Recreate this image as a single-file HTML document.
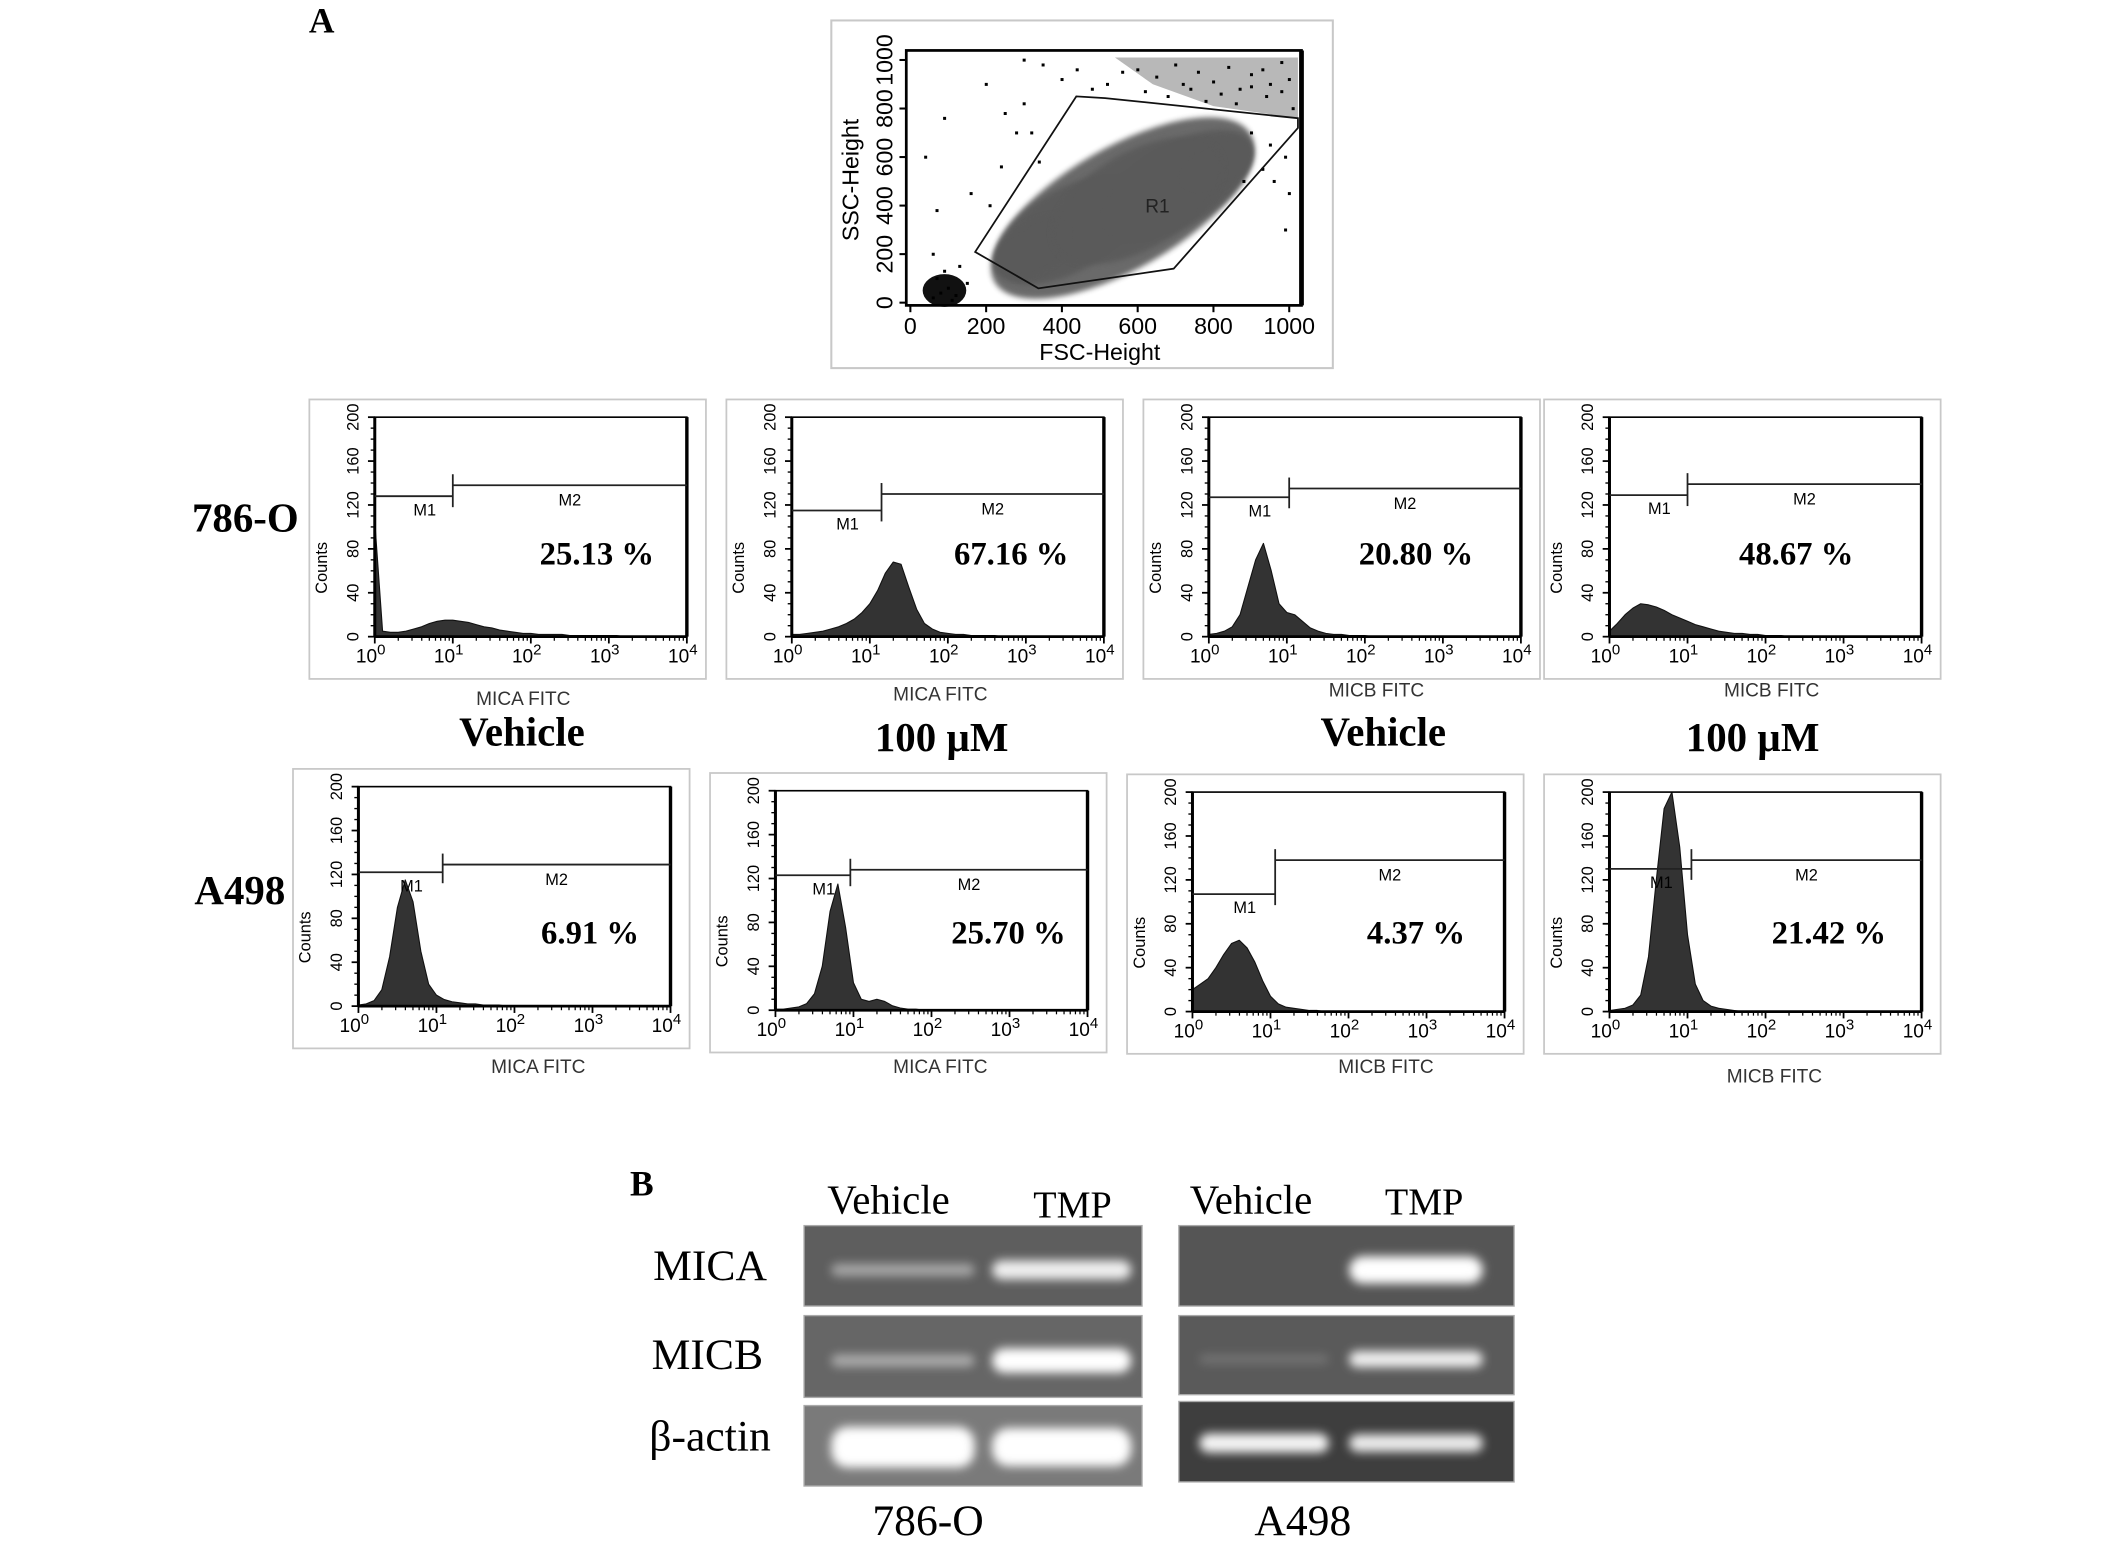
<!DOCTYPE html>
<html><head><meta charset="utf-8"><style>
html,body{margin:0;padding:0;background:#fff}
svg{display:block}
.sans{font-family:"Liberation Sans",sans-serif}
.serif{font-family:"Liberation Serif",serif}
</style></head><body>
<svg id="fig" width="2126" height="1546" viewBox="0 0 1560 1134" preserveAspectRatio="none" xmlns="http://www.w3.org/2000/svg">
<defs>
<filter id="blur" x="-30%" y="-100%" width="160%" height="300%"><feGaussianBlur stdDeviation="3.5"/></filter>
<filter id="blur2" x="-20%" y="-20%" width="140%" height="140%"><feGaussianBlur stdDeviation="2"/></filter>
</defs>
<text x="236" y="24" class="serif" font-weight="bold" font-size="26" text-anchor="middle">A</text>
<text x="471" y="877" class="serif" font-weight="bold" font-size="26" text-anchor="middle">B</text>
<g id="scatter"></g>
<g id="hists"></g>
<text x="180" y="390" class="serif" font-weight="bold" font-size="30" text-anchor="middle">786-O</text>
<text x="176" y="663" class="serif" font-weight="bold" font-size="30" text-anchor="middle">A498</text>
<text x="383" y="547" class="serif" font-weight="bold" font-size="30" text-anchor="middle">Vehicle</text>
<text x="691" y="551" class="serif" font-weight="bold" font-size="30" text-anchor="middle">100 µM</text>
<text x="1015" y="547" class="serif" font-weight="bold" font-size="30" text-anchor="middle">Vehicle</text>
<text x="1286" y="551" class="serif" font-weight="bold" font-size="30" text-anchor="middle">100 µM</text>
<g id="gel"></g>
</svg>
<script>
const NS='http://www.w3.org/2000/svg';
function mk(p,tag,a,txt){const e=document.createElementNS(NS,tag);for(const k in a)e.setAttribute(k,a[k]);if(txt!==undefined)e.textContent=txt;p.appendChild(e);return e;}

/* ---------- scatter data ---------- */
const fscTicks=[0,200,400,600,800,1000];
const sscTicks=[0,200,400,600,800,1000];
const gateFsc=[171,438,514,1023,1023,695,338];
const gateSsc=[209,850,843,760,720,140,59];
const cloudFsc=[560,420,700,330,800,600];
const cloudSsc=[390,300,480,230,560,420];
const cloudRx=[390,220,230,120,110,250];
const cloudRy=[250,170,170,100,100,200];
const dotFsc=[60,80,100,120,150,70,90,110,60,130,40,200,250,300,320,340,160,210,90,70,600,650,700,720,760,800,840,870,900,930,950,980,1000,620,680,740,780,820,860,900,940,980,1010,560,520,480,440,400,350,300,900,950,990,930,960,240,280,990,1000,880];
const dotSsc=[20,40,60,30,80,100,130,10,200,150,600,900,780,820,700,580,450,400,760,380,960,930,980,900,950,910,970,880,940,960,900,990,920,870,850,880,830,860,820,890,850,870,800,950,900,880,960,920,980,1000,700,650,600,550,500,560,700,300,450,500];

const scatter=document.getElementById('scatter');
(function(){
  const g=scatter;
  mk(g,'rect',{x:610,y:15,width:368,height:255,fill:'#fff',stroke:'#c8c8c8','stroke-width':1.5});
  const L=665,R=955,T=37,B=224;
  const x0=668,x1=946,y0=222,y1=44;
  const sx=v=>x0+(x1-x0)*v/1000, sy=v=>y0+(y1-y0)*v/1000;
  const ur=mk(g,'path',{d:`M${sx(540)} ${sy(1010)} L${sx(1023)} ${sy(1010)} L${sx(1023)} ${sy(760)} L${sx(800)} ${sy(810)} L${sx(640)} ${sy(900)} Z`,fill:'#333',opacity:0.35});
  
  
  for(let i=0;i<cloudFsc.length;i++){
    const cx=sx(cloudFsc[i]),cy=sy(cloudSsc[i]);
    const e=mk(g,'ellipse',{cx:cx,cy:cy,rx:(x1-x0)*cloudRx[i]/1000,ry:(y0-y1)*cloudRy[i]/1000,fill:'#5a5a5a',opacity:0.9,transform:`rotate(-30 ${cx} ${cy})`,filter:'url(#blur2)'});
    
    
  }
  const deb=mk(g,'ellipse',{cx:sx(90),cy:sy(50),rx:16,ry:12,fill:'#111'});
  
  
  for(let i=0;i<dotFsc.length;i++){
    const d=mk(g,'rect',{x:sx(dotFsc[i])-1,y:sy(dotSsc[i])-1,width:2.2,height:2.2,fill:'#000'});
    
    
  }
  let pts=gateFsc.map((f,i)=>sx(f)+','+sy(gateSsc[i])).join(' ');
  const gp=mk(g,'polygon',{points:pts,fill:'none',stroke:'#111','stroke-width':1.3});
  
  
  mk(g,'text',{x:sx(620),y:sy(400)+5,'font-size':14,fill:'#222',class:'sans'},'R1');
  mk(g,'rect',{x:L,y:T,width:R-L,height:B-T,fill:'none',stroke:'#000','stroke-width':2});
  mk(g,'line',{x1:R,y1:T,x2:R,y2:B,stroke:'#000','stroke-width':3.5});
  fscTicks.forEach(v=>{mk(g,'line',{x1:sx(v),y1:B,x2:sx(v),y2:B+5,stroke:'#000','stroke-width':1.5});
    const t=mk(g,'text',{x:sx(v),y:B+21,'font-size':17,'text-anchor':'middle',class:'sans'},String(v));});
  sscTicks.forEach(v=>{mk(g,'line',{x1:L-5,y1:sy(v),x2:L,y2:sy(v),stroke:'#000','stroke-width':1.5});
    const t=mk(g,'text',{x:L-10,y:sy(v),'font-size':17,'text-anchor':'middle',transform:`rotate(-90 ${L-10} ${sy(v)})`,class:'sans'},String(v));});
  const xt=mk(g,'text',{x:(x0+x1)/2,y:264,'font-size':17,'text-anchor':'middle',class:'sans'},'FSC-Height');
  
  const yt=mk(g,'text',{x:630,y:132,'font-size':17,'text-anchor':'middle',transform:'rotate(-90 630 132)',class:'sans'},'SSC-Height');
  
})();

/* ---------- histogram data (counts at log10 = 0,0.1,...,4) ---------- */
const histA=[105,5,4,4,5,7,9,12,14,15,15,14,13,11,9,8,6,5,4,3,3,2,2,2,2,1,1,1,1,1,1,1,0,0,0,0,0,0,0,0,0];
const histB=[2,2,3,4,5,7,9,12,16,22,30,42,58,68,66,45,25,12,7,4,3,2,2,1,1,1,1,0,0,0,0,0,0,0,0,0,0,0,0,0,0];
const histC=[2,3,5,9,20,45,70,85,60,30,22,20,14,8,5,3,2,2,1,1,1,0,0,0,0,0,0,0,0,0,0,0,0,0,0,0,0,0,0,0,0];
const histD=[5,12,20,26,30,29,27,24,20,17,14,11,9,7,5,4,3,3,2,2,1,1,1,0,0,0,0,0,0,0,0,0,0,0,0,0,0,0,0,0,0];
const histE=[1,2,5,15,45,90,115,95,50,20,10,6,4,3,2,2,1,1,1,0,0,0,0,0,0,0,0,0,0,0,0,0,0,0,0,0,0,0,0,0,0];
const histF=[1,1,2,3,6,15,40,90,115,75,25,10,8,10,8,4,2,1,1,0,0,0,0,0,0,0,0,0,0,0,0,0,0,0,0,0,0,0,0,0,0];
const histG=[20,25,30,40,52,62,65,58,45,28,14,7,4,3,2,1,1,0,0,0,0,0,0,0,0,0,0,0,0,0,0,0,0,0,0,0,0,0,0,0,0];
const histH=[1,2,3,6,15,50,120,185,200,150,70,25,10,5,3,2,1,0,0,0,0,0,0,0,0,0,0,0,0,0,0,0,0,0,0,0,0,0,0,0,0];
const histSeries=[histA,histB,histC,histD,histE,histF,histG,histH];
const gateSplit=[1.0,1.15,1.03,1.0,1.08,0.96,1.06,1.05];
const gateM1=[128,115,127,129,122,123,107,130];
const gateM2=[138,130,135,139,129,128,138,138];
const percentLabels=['25.13 %','67.16 %','20.80 %','48.67 %','6.91 %','25.70 %','4.37 %','21.42 %'];
const markerLabels=['MICA FITC','MICA FITC','MICB FITC','MICB FITC','MICA FITC','MICA FITC','MICB FITC','MICB FITC'];
const countTicks=[0,40,80,120,160,200];
const decadeTicks=[0,1,2,3,4];
const frames=[[227,293],[533,293],[839,293],[1133,293],[215,564],[521,567],[827,568],[1133,568]];
const pctPos=[[438,414],[742,414],[1039,414],[1318,414],[433,692],[740,692],[1039,692],[1342,692]];
const lblPos=[[384,517],[690,514],[1010,511],[1300,511],[395,787],[690,787],[1017,787],[1302,794]];

const hg=document.getElementById('hists');
histSeries.forEach((data,k)=>{
  const [fx,fy]=frames[k];
  const g=mk(hg,'g',{});
  
  
  mk(g,'rect',{x:fx,y:fy,width:291,height:205,fill:'#fff',stroke:'#c8c8c8','stroke-width':1.3});
  const L=fx+48,R=fx+277,T=fy+13,B=fy+174;
  const sx=l=>L+(R-L)*l/4, sy=c=>B-(B-T)*c/200;
  let d=`M${sx(0)} ${B}`;
  data.forEach((c,i)=>{d+=` L${sx(i*0.1)} ${sy(Math.min(c,200))}`;});
  d+=` L${sx(4)} ${B} Z`;
  const a=mk(g,'path',{d:d,fill:'#333',stroke:'#111','stroke-width':0.8,'stroke-linejoin':'round'});
  
  
  mk(g,'rect',{x:L,y:T,width:R-L,height:B-T,fill:'none',stroke:'#000','stroke-width':1.2});
  mk(g,'line',{x1:L,y1:T,x2:L,y2:B,stroke:'#000','stroke-width':2.2});
  mk(g,'line',{x1:L,y1:B,x2:R,y2:B,stroke:'#000','stroke-width':2});
  mk(g,'line',{x1:R,y1:T,x2:R,y2:B,stroke:'#000','stroke-width':2.5});
  const gx=sx(gateSplit[k]);
  const m1=mk(g,'line',{x1:L,y1:sy(gateM1[k]),x2:gx,y2:sy(gateM1[k]),stroke:'#222','stroke-width':1.3});
  
  const m2=mk(g,'line',{x1:gx,y1:sy(gateM2[k]),x2:R,y2:sy(gateM2[k]),stroke:'#222','stroke-width':1.3});
  
  const lo=Math.min(gateM1[k],gateM2[k]);
  mk(g,'line',{x1:gx,y1:sy(Math.max(gateM1[k],gateM2[k])+10),x2:gx,y2:sy(lo-10),stroke:'#222','stroke-width':1.3});
  mk(g,'text',{x:(L+gx)/2+8,y:sy(gateM1[k])+14,'font-size':12,'text-anchor':'middle',class:'sans'},'M1');
  mk(g,'text',{x:(gx+R)/2,y:sy(gateM2[k])+15,'font-size':12,'text-anchor':'middle',class:'sans'},'M2');
  countTicks.forEach(c=>{
    mk(g,'line',{x1:L-5,y1:sy(c),x2:L,y2:sy(c),stroke:'#000','stroke-width':1.3});
    const t=mk(g,'text',{x:L-12,y:sy(c),'font-size':12,'text-anchor':'middle',transform:`rotate(-90 ${L-12} ${sy(c)})`,class:'sans'},String(c));
    
  });
  for(let c=10;c<200;c+=10){if(c%40)mk(g,'line',{x1:L-3,y1:sy(c),x2:L,y2:sy(c),stroke:'#000','stroke-width':1});}
  decadeTicks.forEach(l=>{
    mk(g,'line',{x1:sx(l),y1:B,x2:sx(l),y2:B+5,stroke:'#000','stroke-width':1.3});
    if(l<4)for(let m=2;m<10;m++){const xx=sx(l+Math.log10(m));mk(g,'line',{x1:xx,y1:B,x2:xx,y2:B+3,stroke:'#000','stroke-width':0.9});}
    const t=mk(g,'text',{x:sx(l)-3,y:B+19,'font-size':14,'text-anchor':'middle',class:'sans'});
    
    mk(t,'tspan',{},'10');mk(t,'tspan',{dy:-6,'font-size':11},String(l));
  });
  mk(g,'text',{x:fx+13,y:(T+B)/2+30,'font-size':12,'text-anchor':'middle',transform:`rotate(-90 ${fx+13} ${(T+B)/2+30})`,class:'sans'},'Counts');
  const p=mk(g,'text',{x:pctPos[k][0],y:pctPos[k][1],'font-size':24,'font-weight':'bold','text-anchor':'middle',class:'serif'},percentLabels[k]);
  
  const ml=mk(hg,'text',{x:lblPos[k][0],y:lblPos[k][1],'font-size':14,'text-anchor':'middle',fill:'#333',class:'sans'},markerLabels[k]);
  
});

/* ---------- gel data ---------- */
const gelGenes=['MICA','MICB','β-actin'];
const bandIntensity786=[[0.45,0.9],[0.45,1.0],[1.0,1.0]];
const bandIntensityA498=[[0.0,1.0],[0.15,0.9],[0.95,0.9]];
const bandThick786=[[9,14],[9,18],[30,28]];
const bandThickA498=[[0,20],[7,12],[14,13]];
const gelBg786=['#5e5e5e','#666','#7a7a7a'];
const gelBgA498=['#555','#5a5a5a','#3e3e3e'];
const gel=document.getElementById('gel');
(function(){
  const rowsL=[[899,958],[965,1025],[1031,1090]];
  const rowsR=[[899,958],[965,1023],[1028,1087]];
  const cols=[{x:590,w:248,rows:rowsL,I:bandIntensity786,T:bandThick786,bg:gelBg786,lanes:[[610,715],[728,830]],name:'786o'},
              {x:865,w:246,rows:rowsR,I:bandIntensityA498,T:bandThickA498,bg:gelBgA498,lanes:[[880,975],[990,1088]],name:'a498'}];
  cols.forEach(c=>{
    c.rows.forEach((r,i)=>{
      const g=mk(gel,'g',{});
      
      
      mk(g,'rect',{x:c.x,y:r[0],width:c.w,height:r[1]-r[0],fill:c.bg[i],stroke:'#aaa','stroke-width':1});
      const cy=(r[0]+r[1])/2+(i==2?1:3);
      c.lanes.forEach((ln,j)=>{
        const v=c.I[i][j];if(v<=0)return;
        const h=c.T[i][j];
        const b=mk(g,'rect',{x:ln[0],y:cy-h/2,width:ln[1]-ln[0],height:h,rx:Math.min(h/2,12),fill:'#fff',opacity:v,filter:'url(#blur)'});
        
        
      });
    });
  });
  const labs=[['Vehicle',652,890,30],['TMP',787,893,28],['Vehicle',918,890,30],['TMP',1045,891,28],['MICA',521,939,32],['MICB',519,1004,32],['β-actin',521,1064,32],['786-O',681,1126,32],['A498',956,1126,32]];
  labs.forEach(l=>{const t=mk(gel,'text',{x:l[1],y:l[2],'font-size':l[3],'text-anchor':'middle',class:'serif'},l[0]);});
})();
</script>
</body></html>
